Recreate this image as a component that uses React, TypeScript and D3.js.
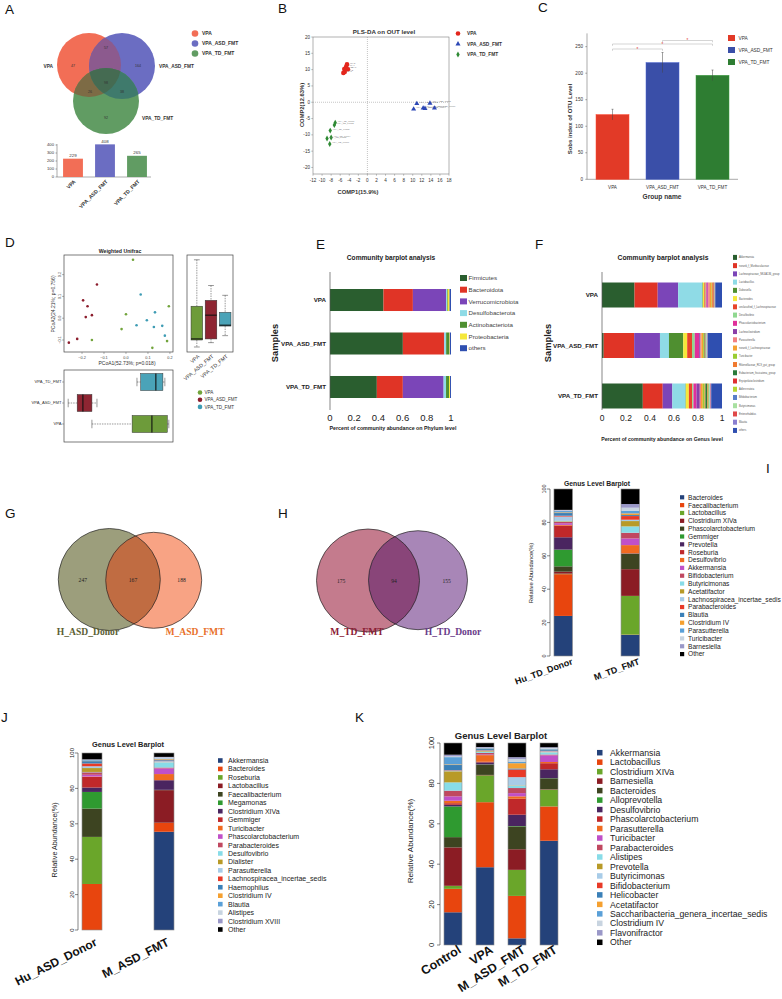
import React from 'react';
import * as d3 from 'd3';

const SANS = "'Liberation Sans', Arial, Helvetica, sans-serif";
const SERIF = "'Liberation Serif', 'Times New Roman', Times, serif";

// ---------------- Panel A ----------------
const aGroups = ['VPA', 'VPA_ASD_FMT', 'VPA_TD_FMT'];
const aColors = ['#f26e56', '#6b6dc2', '#619c63'];
const aTotals = [229, 408, 265];
const aRegionCounts = [47, 57, 164, 98, 26, 38, 92];
const aTicks = [0, 100, 200, 300, 400];

// ---------------- Panel B ----------------
const bGroups = ['VPA', 'VPA_ASD_FMT', 'VPA_TD_FMT'];
const bColors = ['#e3261c', '#2c47b5', '#2f8a34'];
const bVPA = [[-5.3, 9.0], [-5.0, 9.3], [-5.1, 10.2], [-4.7, 10.9], [-4.5, 11.6], [-4.3, 10.1]];
const bASD = [[10.2, -2.1], [10.9, -0.4], [12.3, -1.8], [12.7, -1.9], [13.8, -0.3], [14.8, -1.8]];
const bTD = [[-7.1, -6.3], [-7.3, -7.0], [-8.2, -8.7], [-8.0, -10.8], [-8.9, -11.1], [-8.3, -12.8]];
const bXTicks = [-12, -10, -8, -6, -4, -2, 0, 2, 4, 6, 8, 10, 12, 14, 16, 18];
const bYTicks = [-20, -15, -10, -5, 0, 5, 10, 15, 20];

// ---------------- Panel C ----------------
const cGroups = ['VPA', 'VPA_ASD_FMT', 'VPA_TD_FMT'];
const cColors = ['#e23a27', '#3a4fa8', '#2e7d32'];
const cMeans = [122, 220, 196];
const cErrors = [10, 19, 10];
const cTicks = [0, 50, 100, 150, 200, 250];

// ---------------- Panel D ----------------
const dGroups = ['VPA', 'VPA_ASD_FMT', 'VPA_TD_FMT'];
const dColors = ['#72a43c', '#8c1d2d', '#3e9cb4'];
const dBoxColors = ['#6d9b3a', '#8e2532', '#4aa3b8'];
const dVPA = [[0.032, 0.268], [0.0, 0.018], [-0.02, -0.05], [0.195, 0.055], [0.187, -0.105], [0.12, -0.136], [-0.155, -0.1]];
const dASD = [[-0.132, 0.155], [-0.195, 0.082], [-0.175, 0.055], [-0.155, 0.014], [-0.183, 0.005], [-0.222, -0.095], [-0.26, -0.112]];
const dTD = [[0.067, 0.109], [0.132, 0.027], [0.095, -0.009], [0.048, -0.032], [0.127, -0.04], [0.165, -0.035], [0.177, -0.08]];
// [min, q1, median, q3, max]
const dPC2Stats = [[-0.132, -0.1, -0.095, 0.055, 0.268], [-0.112, -0.095, 0.014, 0.082, 0.15], [-0.08, -0.036, -0.032, 0.027, 0.105]];
const dPC1Stats = [[-0.155, 0.028, 0.118, 0.188, 0.195], [-0.263, -0.222, -0.196, -0.155, -0.132], [0.05, 0.067, 0.136, 0.168, 0.177]];
const dXTicks = [-0.2, -0.1, 0.0, 0.1, 0.2];
const dYTicks = [-0.1, 0.0, 0.1, 0.2];

// ---------------- Panel E ----------------
const ePhyla = ['Firmicutes', 'Bacteroidota', 'Verrucomicrobiota', 'Desulfobacterota', 'Actinobacteriota', 'Proteobacteria', 'others'];
const eColors = ['#2a5e2f', '#e03426', '#7b45b8', '#8fdbe6', '#4f8f30', '#f5e83a', '#2f4fb0'];
const eSamples = ['VPA', 'VPA_ASD_FMT', 'VPA_TD_FMT'];
const eVPA = [0.442, 0.243, 0.274, 0.008, 0.006, 0.015, 0.012];
const eASD = [0.602, 0.340, 0.003, 0.015, 0.025, 0.005, 0.010];
const eTD = [0.387, 0.215, 0.337, 0.020, 0.025, 0.008, 0.008];
const eTicks = [0, 0.2, 0.4, 0.6, 0.8, 1];

// ---------------- Panel F ----------------
const fGenera = ['Akkermansia', 'norank_f_Muribaculaceae', 'Lachnospiraceae_NK4A136_group', 'Lactobacillus', 'Dubosiella', 'Bacteroides', 'unclassified_f_Lachnospiraceae', 'Desulfovibrio', 'Phascolarctobacterium', 'Lachnoclostridium', 'Parasutterella', 'norank_f_Lachnospiraceae', 'Turicibacter', 'Rikenellaceae_RC9_gut_group', 'Eubacterium_fissicatena_group', 'Erysipelatoclostridium', 'Adlercreutzia', 'Bifidobacterium', 'Butyricimonas', 'Enterorhabdus', 'Blautia', 'others'];
const fColors = ['#2a5e2f', '#e03426', '#7b45b8', '#8fdbe6', '#4f8f30', '#f5e83a', '#e8452a', '#90d890', '#e0309a', '#8a3fa8', '#f28080', '#f5a030', '#9acd32', '#f07a30', '#2a7a3a', '#e03030', '#b5d630', '#5a7fc8', '#a8e0a0', '#e04848', '#8a7fd0', '#2f4fb0'];
const fVPA = [0.271, 0.193, 0.171, 0.202, 0.004, 0.012, 0.010, 0.006, 0.012, 0.004, 0.014, 0.015, 0.004, 0.010, 0.002, 0.004, 0.002, 0.002, 0.002, 0.002, 0.002, 0.056];
const fASD = [0.014, 0.254, 0.215, 0.075, 0.119, 0.033, 0.040, 0.023, 0.037, 0.010, 0.008, 0.015, 0.007, 0.005, 0.004, 0.003, 0.003, 0.005, 0.005, 0.003, 0.003, 0.119];
const fTD = [0.340, 0.166, 0.080, 0.110, 0.003, 0.025, 0.027, 0.011, 0.025, 0.028, 0.010, 0.015, 0.015, 0.007, 0.013, 0.005, 0.010, 0.005, 0.005, 0.005, 0.005, 0.090];
const fTicks = [0, 0.2, 0.4, 0.6, 0.8, 1];

// ---------------- Panels G / H ----------------
const gSets = ['H_ASD_Donor', 'M_ASD_FMT'];
const gCounts = [247, 167, 188];
const hSets = ['M_TD_FMT', 'H_TD_Donor'];
const hCounts = [175, 94, 155];

// ---------------- Genus barplots I / J / K ----------------
const genusPalette = ['#24427a', '#e8450e', '#6aa62a', '#8b1c24', '#3d4421', '#2f9a30', '#4a2560', '#c0282a', '#f06a20', '#c050c8', '#c04860', '#88dce8', '#b89a28', '#a8cce8', '#e83a28', '#3a80b8', '#f5a030', '#5aa0d8', '#c8d4e0', '#9a98c8', '#000000'];
const pctTicks = [0, 20, 40, 60, 80, 100];

const iGenera = ['Bacteroides', 'Faecalibacterium', 'Lactobacillus', 'Clostridium XIVa', 'Phascolarctobacterium', 'Gemmiger', 'Prevotella', 'Roseburia', 'Desulfovibrio', 'Akkermansia', 'Bifidobacterium', 'Butyricimonas', 'Acetatifactor', 'Lachnospiracea_incertae_sedis', 'Parabacteroides', 'Blautia', 'Clostridium IV', 'Parasutterella', 'Turicibacter', 'Barnesiella', 'Other'];
const iSamples = ['Hu_TD_Donor', 'M_TD_FMT'];
const iHuTD = [24, 25, 0.3, 1.2, 3.2, 10, 7.4, 7, 0.4, 1, 0.8, 0.3, 0.3, 2.6, 0.5, 1.6, 0.4, 0.8, 0.4, 0.3, 12.5];
const iMTD = [12.6, 0.2, 23.2, 16, 9.2, 0.1, 0.1, 0.2, 4.8, 4, 3.4, 3.8, 3.2, 0.8, 2.2, 0.6, 1, 1.6, 1.8, 2.2, 9];

const jGenera = ['Akkermansia', 'Bacteroides', 'Roseburia', 'Lactobacillus', 'Faecalibacterium', 'Megamonas', 'Clostridium XIVa', 'Gemmiger', 'Turicibacter', 'Phascolarctobacterium', 'Parabacteroides', 'Desulfovibrio', 'Dialister', 'Parasutterella', 'Lachnospiracea_incertae_sedis', 'Haemophilus', 'Clostridium IV', 'Blautia', 'Alistipes', 'Clostridium XVIII', 'Other'];
const jSamples = ['Hu_ASD_Donor', 'M_ASD_FMT'];
const jHuASD = [0, 26, 26.6, 0, 16, 9.4, 2.5, 6, 0.2, 1, 1.4, 0.2, 2.2, 1, 1.6, 1.3, 0.2, 0.4, 0.2, 0.2, 3.6];
const jMASD = [55.5, 5, 0.1, 18.4, 0.2, 0, 5.4, 0.1, 3.4, 3.2, 0.5, 2.8, 0.1, 0.7, 0.3, 0.4, 0.4, 0.4, 0.6, 0.3, 2.2];

const kGenera = ['Akkermansia', 'Lactobacillus', 'Clostridium XIVa', 'Barnesiella', 'Bacteroides', 'Alloprevotella', 'Desulfovibrio', 'Phascolarctobacterium', 'Parasutterella', 'Turicibacter', 'Parabacteroides', 'Alistipes', 'Prevotella', 'Butyricimonas', 'Bifidobacterium', 'Helicobacter', 'Acetatifactor', 'Saccharibacteria_genera_incertae_sedis', 'Clostridium IV', 'Flavonifractor', 'Other'];
const kSamples = ['Control', 'VPA', 'M_ASD_FMT', 'M_TD_FMT'];
const kControl = [16.2, 11.6, 1.5, 19, 5.1, 15.2, 0.8, 0.8, 1.2, 2.2, 2.8, 4.1, 5.5, 0.3, 0.2, 2.6, 0.3, 3.6, 0.4, 0.8, 5.8];
const kVPA = [38.5, 32.2, 13.3, 0.2, 5.1, 0.1, 1, 0.3, 3.3, 0.3, 0.8, 0.6, 0.3, 0.2, 0.2, 0.6, 0.2, 0.3, 0.2, 0.3, 2];
const kMASD = [3.3, 21, 12.9, 10.2, 11.3, 0.2, 5.6, 7.9, 1.2, 1.6, 2.5, 1.1, 0.2, 4.1, 3.8, 0.5, 2.6, 0.6, 1.5, 0.9, 7];
const kMTD = [51.6, 17, 8.3, 0.2, 5.4, 0.1, 4.4, 3, 0.6, 3.3, 0.4, 1, 0.1, 0.5, 0.2, 0.4, 0.2, 0.4, 0.5, 0.3, 2.1];

const panelLetters: [string, number, number][] = [
  ['A', 5, 14], ['B', 278, 13], ['C', 538, 12], ['D', 5, 247], ['E', 316, 249], ['F', 535, 249],
  ['G', 5, 518], ['H', 278, 518], ['I', 766, 473], ['J', 1, 722], ['K', 355, 722],
];

// ---------------- helpers ----------------
function stackData(categories: string[], samples: string[], values: number[][]) {
  const rows = samples.map((s, i) => {
    const o: any = { sample: s };
    categories.forEach((c, j) => (o[c] = values[i][j]));
    return o;
  });
  return d3.stack().keys(categories)(rows);
}

function HStack({ categories, colors, samples, values, x, y }: any) {
  const series = stackData(categories, samples, values);
  return (
    <g>
      {series.map((s: any, j: number) =>
        s.map((d: any, i: number) => (
          <rect key={j + '-' + i} x={x(d[0])} y={y(samples[i])} width={Math.max(0, x(d[1]) - x(d[0]))} height={y.bandwidth()} fill={colors[j]} />
        ))
      )}
    </g>
  );
}

function Columns({ genera, colors, samples, values, x, y }: any) {
  const series = stackData(genera, samples, values);
  return (
    <g>
      {series.map((s: any, j: number) =>
        s.map((d: any, i: number) => (
          <rect key={j + '-' + i} x={x(samples[i])} y={y(d[1])} width={x.bandwidth()} height={Math.max(0, y(d[0]) - y(d[1]))} fill={colors[j]} />
        ))
      )}
      {samples.map((s: string) => (
        <rect key={s} x={x(s)} y={y(100)} width={x.bandwidth()} height={y(0) - y(100)} fill="none" stroke="#8c8c8c" strokeWidth={0.6} />
      ))}
    </g>
  );
}

function RAxis({ y, axisX, labelX, fontSize }: any) {
  return (
    <g>
      <line x1={axisX} x2={axisX} y1={y(0)} y2={y(100)} stroke="#333" strokeWidth={0.6} />
      {pctTicks.map((t) => (
        <g key={t}>
          <line x1={axisX} x2={axisX - 3} y1={y(t)} y2={y(t)} stroke="#333" strokeWidth={0.6} />
          <text transform={`translate(${labelX},${y(t)}) rotate(-90)`} textAnchor="middle" fontSize={fontSize} fill="#222">{t}</text>
        </g>
      ))}
    </g>
  );
}

function GenusLegend({ names, colors, x, textX, y0, step, size, fontSize }: any) {
  return (
    <g>
      {names.map((n: string, i: number) => (
        <g key={n}>
          <rect x={x} y={y0 + i * step - size / 2} width={size} height={size} fill={colors[i]} />
          <text x={textX} y={y0 + i * step + fontSize * 0.36} fontSize={fontSize} fill="#222">{n}</text>
        </g>
      ))}
    </g>
  );
}

// ---------------- Panels ----------------
function PanelA() {
  const C = [
    { cx: 89, cy: 65, r: 32 },
    { cx: 122, cy: 66, r: 33 },
    { cx: 106, cy: 101, r: 33 },
  ];
  const regionPos = [[73, 66], [106, 48], [138, 66], [106, 83], [90, 92], [122, 92], [106, 118]];
  const x = d3.scaleBand().domain(aGroups).range([57, 153]).paddingInner(0.38).paddingOuter(0.19);
  const y = d3.scaleLinear().domain([0, 400]).range([177, 145]);
  const circ = (c: any, fill: string) => <circle cx={c.cx} cy={c.cy} r={c.r} fill={fill} />;
  return (
    <g>
      <defs>
        {C.map((c, i) => (
          <clipPath id={`aClip${i}`} key={i}>
            <circle cx={c.cx} cy={c.cy} r={c.r} />
          </clipPath>
        ))}
      </defs>
      {C.map((c, i) => <circle key={i} cx={c.cx} cy={c.cy} r={c.r} fill={aColors[i]} />)}
      <g clipPath="url(#aClip0)">{circ(C[1], '#8c5a8e')}</g>
      <g clipPath="url(#aClip0)">{circ(C[2], '#7d6b45')}</g>
      <g clipPath="url(#aClip1)">{circ(C[2], '#3f7a6c')}</g>
      <g clipPath="url(#aClip0)"><g clipPath="url(#aClip1)">{circ(C[2], '#456b52')}</g></g>
      {aRegionCounts.map((v, i) => (
        <text key={i} x={regionPos[i][0]} y={regionPos[i][1] + 1.2} textAnchor="middle" fontSize={3.6} fill="#333">{v}</text>
      ))}
      <text x={53} y={67.5} textAnchor="end" fontSize={4.8} fontWeight="bold" fill="#333">{aGroups[0]}</text>
      <text x={159} y={67.5} fontSize={4.8} fontWeight="bold" fill="#333">{aGroups[1]}</text>
      <text x={142} y={119.5} fontSize={4.8} fontWeight="bold" fill="#333">{aGroups[2]}</text>
      {aGroups.map((g, i) => (
        <g key={g}>
          <circle cx={195} cy={33.5 + i * 10} r={3.3} fill={aColors[i]} />
          <text x={202} y={35.2 + i * 10} fontSize={5} fontWeight="bold" fill="#333">{g}</text>
        </g>
      ))}
      {/* bar chart */}
      <line x1={57} x2={57} y1={144} y2={177} stroke="#555" strokeWidth={0.5} />
      <line x1={57} x2={151} y1={177} y2={177} stroke="#555" strokeWidth={0.5} />
      {aTicks.map((t) => (
        <g key={t}>
          <line x1={55.5} x2={57} y1={y(t)} y2={y(t)} stroke="#555" strokeWidth={0.5} />
          <text x={54} y={y(t) + 1.4} textAnchor="end" fontSize={4.2} fill="#333">{t}</text>
        </g>
      ))}
      {aGroups.map((g, i) => (
        <g key={g}>
          <rect x={x(g)} y={y(aTotals[i])} width={x.bandwidth()} height={y(0) - y(aTotals[i])} fill={aColors[i]} />
          <text x={(x(g) as number) + x.bandwidth() / 2} y={y(aTotals[i]) - 1.5} textAnchor="middle" fontSize={4.4} fill="#333">{aTotals[i]}</text>
          <text transform={`translate(${(x(g) as number) + x.bandwidth() / 2 + 3},${182}) rotate(-45)`} textAnchor="end" fontSize={5.2} fontWeight="bold" fill="#333">{g}</text>
        </g>
      ))}
    </g>
  );
}

function PanelB() {
  const x = d3.scaleLinear().domain([-12, 18]).range([313, 449]);
  const y = d3.scaleLinear().domain([-22, 20]).range([174, 37]);
  const tri = d3.symbol().type(d3.symbolTriangle).size(11)() as string;
  const dia = d3.symbol().type(d3.symbolDiamond).size(10)() as string;
  const groups = [bVPA, bASD, bTD];
  const mark = (g: number, px: number, py: number, key: string) =>
    g === 0 ? (
      <circle key={key} cx={px} cy={py} r={2.3} fill={bColors[0]} />
    ) : (
      <path key={key} d={g === 1 ? tri : dia} transform={`translate(${px},${py})`} fill={bColors[g]} />
    );
  return (
    <g>
      <text x={384} y={34} textAnchor="middle" fontSize={6.2} fontWeight="bold" fill="#333">PLS-DA  on OUT level</text>
      <rect x={313} y={37} width={136} height={137} fill="none" stroke="#666" strokeWidth={0.5} />
      <line x1={x(0)} x2={x(0)} y1={37} y2={174} stroke="#888" strokeWidth={0.5} strokeDasharray="1,1" />
      <line x1={313} x2={449} y1={y(0)} y2={y(0)} stroke="#888" strokeWidth={0.5} strokeDasharray="1,1" />
      {bXTicks.map((t) => (
        <g key={t}>
          <line x1={x(t)} x2={x(t)} y1={174} y2={175.8} stroke="#666" strokeWidth={0.4} />
          <text x={x(t)} y={182} textAnchor="middle" fontSize={4.6} fill="#333">{t}</text>
        </g>
      ))}
      {bYTicks.map((t) => (
        <g key={t}>
          <line x1={311.2} x2={313} y1={y(t)} y2={y(t)} stroke="#666" strokeWidth={0.4} />
          <text x={310} y={y(t) + 1.5} textAnchor="end" fontSize={4.6} fill="#333">{t}</text>
        </g>
      ))}
      <text x={358} y={194} textAnchor="middle" fontSize={5.8} fontWeight="bold" fill="#333">COMP1(15.9%)</text>
      <text transform="translate(304,105) rotate(-90)" textAnchor="middle" fontSize={5.8} fontWeight="bold" fill="#333">COMP2(12.63%)</text>
      {groups.map((pts, g) =>
        pts.map((p, i) => (
          <g key={g + '-' + i}>
            {mark(g, x(p[0]), y(p[1]), 'm')}
            <text x={x(p[0]) + 2.5} y={y(p[1]) - 0.8} fontSize={2.4} fill="#777">{bGroups[g] + (i + 1)}</text>
          </g>
        ))
      )}
      {bGroups.map((g, i) => (
        <g key={g}>
          {mark(i, 458, 33.5 + i * 10.5, 'l')}
          <text x={467} y={35.3 + i * 10.5} fontSize={4.8} fontWeight="bold" fill="#333">{g}</text>
        </g>
      ))}
    </g>
  );
}

function PanelC() {
  const x = d3.scaleBand().domain(cGroups).range([587, 738]).paddingInner(0.34).paddingOuter(0.18);
  const y = d3.scaleLinear().domain([0, 275]).range([179.3, 33.4]);
  const cx = (g: string) => (x(g) as number) + x.bandwidth() / 2;
  const brackets = [
    { a: 0, b: 1, yy: 49 },
    { a: 0, b: 2, yy: 44 },
    { a: 1, b: 2, yy: 40.5 },
  ];
  return (
    <g>
      <line x1={587} x2={587} y1={33.4} y2={179.3} stroke="#555" strokeWidth={0.5} />
      <line x1={587} x2={738} y1={179.3} y2={179.3} stroke="#555" strokeWidth={0.5} />
      {cTicks.map((t) => (
        <g key={t}>
          <line x1={585.3} x2={587} y1={y(t)} y2={y(t)} stroke="#555" strokeWidth={0.5} />
          <text x={583} y={y(t) + 1.6} textAnchor="end" fontSize={4.6} fill="#333">{t}</text>
        </g>
      ))}
      {cGroups.map((g, i) => (
        <g key={g}>
          <rect x={x(g)} y={y(cMeans[i])} width={x.bandwidth()} height={y(0) - y(cMeans[i])} fill={cColors[i]} stroke={d3.color(cColors[i])!.brighter(0.6).toString()} strokeWidth={0.5} />
          <line x1={cx(g)} x2={cx(g)} y1={y(cMeans[i] - cErrors[i])} y2={y(cMeans[i] + cErrors[i])} stroke="#444" strokeWidth={0.5} />
          <line x1={cx(g) - 1} x2={cx(g) + 1} y1={y(cMeans[i] + cErrors[i])} y2={y(cMeans[i] + cErrors[i])} stroke="#444" strokeWidth={0.5} />
          <text x={cx(g)} y={188.5} textAnchor="middle" fontSize={4.6} fill="#333">{g}</text>
        </g>
      ))}
      {brackets.map((b, i) => {
        const x1 = cx(cGroups[b.a]);
        const x2 = cx(cGroups[b.b]);
        return (
          <g key={i}>
            <path d={`M${x1},${b.yy + 1.8}V${b.yy}H${x2}V${b.yy + 1.8}`} fill="none" stroke="#aaa" strokeWidth={0.5} />
            <text x={(x1 + x2) / 2} y={b.yy + 1.8} textAnchor="middle" fontSize={4.5} fill="#e23a27">*</text>
          </g>
        );
      })}
      <text x={662} y={199} textAnchor="middle" fontSize={6.6} fontWeight="bold" fill="#333">Group  name</text>
      <text transform="translate(572,119) rotate(-90)" textAnchor="middle" fontSize={6} fontWeight="bold" fill="#333">Sobs  index of OTU Level</text>
      {cGroups.map((g, i) => (
        <g key={g}>
          <rect x={728} y={35 + i * 12} width={7} height={6} fill={cColors[i]} />
          <text x={738.5} y={39.8 + i * 12} fontSize={4.8} fill="#333">{g}</text>
        </g>
      ))}
    </g>
  );
}

function PanelD() {
  const x = d3.scaleLinear().domain([-0.282, 0.214]).range([64, 173]);
  const y = d3.scaleLinear().domain([-0.155, 0.29]).range([352, 255]);
  const pts = [dVPA, dASD, dTD];
  const bx = d3.scaleBand().domain(dGroups).range([187.5, 234.5]).paddingInner(0.18).paddingOuter(0.25);
  const byOrder = ['VPA_TD_FMT', 'VPA_ASD_FMT', 'VPA'];
  const by = d3.scaleBand().domain(byOrder).range([370, 436]).paddingInner(0.19).paddingOuter(0.167);
  const fmt = d3.format('.1f');
  return (
    <g>
      <text x={120} y={253} textAnchor="middle" fontSize={5.2} fontWeight="bold" fill="#222">Weighted Unifrac</text>
      <rect x={64} y={255} width={109} height={97} fill="none" stroke="#444" strokeWidth={0.7} />
      {dXTicks.map((t) => (
        <g key={t}>
          <line x1={x(t)} x2={x(t)} y1={352} y2={354} stroke="#444" strokeWidth={0.4} />
          <text x={x(t)} y={358.5} textAnchor="middle" fontSize={3.8} fill="#444">{fmt(t)}</text>
        </g>
      ))}
      {dYTicks.map((t) => (
        <g key={t}>
          <line x1={62} x2={64} y1={y(t)} y2={y(t)} stroke="#444" strokeWidth={0.4} />
          <text transform={`translate(60.5,${y(t)}) rotate(-90)`} textAnchor="middle" fontSize={3.8} fill="#444">{fmt(t)}</text>
        </g>
      ))}
      <text x={127} y={365} textAnchor="middle" fontSize={5} fill="#333">PCoA1(52.73%; p=0.018)</text>
      <text transform="translate(55,304) rotate(-90)" textAnchor="middle" fontSize={5} fill="#333">PCoA2(24.21%; p=0.756)</text>
      {pts.map((arr, g) => arr.map((p, i) => <circle key={g + '-' + i} cx={x(p[0])} cy={y(p[1])} r={1.3} fill={dColors[g]} />))}
      {/* right boxplot (PCoA2) */}
      <rect x={187} y={255} width={46} height={97} fill="none" stroke="#444" strokeWidth={0.7} />
      {dGroups.map((g, i) => {
        const s = dPC2Stats[i];
        const c = (bx(g) as number) + bx.bandwidth() / 2;
        const w = bx.bandwidth();
        return (
          <g key={g}>
            <line x1={c} x2={c} y1={y(s[4])} y2={y(s[3])} stroke="#333" strokeWidth={0.5} strokeDasharray="1.5,1" />
            <line x1={c} x2={c} y1={y(s[1])} y2={y(s[0])} stroke="#333" strokeWidth={0.5} strokeDasharray="1.5,1" />
            <line x1={c - w / 4} x2={c + w / 4} y1={y(s[4])} y2={y(s[4])} stroke="#333" strokeWidth={0.5} />
            <line x1={c - w / 4} x2={c + w / 4} y1={y(s[0])} y2={y(s[0])} stroke="#333" strokeWidth={0.5} />
            <rect x={bx(g)} y={y(s[3])} width={w} height={y(s[1]) - y(s[3])} fill={dBoxColors[i]} stroke="#333" strokeWidth={0.5} />
            <line x1={bx(g) as number} x2={(bx(g) as number) + w} y1={y(s[2])} y2={y(s[2])} stroke="#111" strokeWidth={1.1} />
            <text transform={`translate(${c + 3},${357}) rotate(-40)`} textAnchor="end" fontSize={5.2} fill="#333">{g}</text>
          </g>
        );
      })}
      {/* bottom boxplot (PCoA1) */}
      <rect x={64} y={370} width={109} height={72} fill="none" stroke="#444" strokeWidth={0.7} />
      {byOrder.map((g) => {
        const i = dGroups.indexOf(g);
        const s = dPC1Stats[i];
        const c = (by(g) as number) + by.bandwidth() / 2;
        const h = by.bandwidth();
        return (
          <g key={g}>
            <line x1={x(s[0])} x2={x(s[1])} y1={c} y2={c} stroke="#333" strokeWidth={0.5} strokeDasharray="1.5,1" />
            <line x1={x(s[3])} x2={x(s[4])} y1={c} y2={c} stroke="#333" strokeWidth={0.5} strokeDasharray="1.5,1" />
            <line x1={x(s[0])} x2={x(s[0])} y1={c - h / 4} y2={c + h / 4} stroke="#333" strokeWidth={0.5} />
            <line x1={x(s[4])} x2={x(s[4])} y1={c - h / 4} y2={c + h / 4} stroke="#333" strokeWidth={0.5} />
            <rect x={x(s[1])} y={by(g)} width={x(s[3]) - x(s[1])} height={h} fill={dBoxColors[i]} stroke="#333" strokeWidth={0.5} />
            <line x1={x(s[2])} x2={x(s[2])} y1={by(g) as number} y2={(by(g) as number) + h} stroke="#111" strokeWidth={1.1} />
            <line x1={62} x2={64} y1={c} y2={c} stroke="#444" strokeWidth={0.4} />
            <text x={61.5} y={c + 1.4} textAnchor="end" fontSize={4.2} fill="#333">{g}</text>
          </g>
        );
      })}
      {dGroups.map((g, i) => (
        <g key={g}>
          <circle cx={200} cy={392.5 + i * 7.2} r={2.3} fill={dColors[i]} />
          <text x={204.5} y={394.2 + i * 7.2} fontSize={4.6} fill="#333">{g}</text>
        </g>
      ))}
    </g>
  );
}

function PanelE() {
  const x = d3.scaleLinear().domain([0, 1]).range([330, 451]);
  const y = d3.scaleBand().domain(eSamples).range([278, 409]).paddingInner(0.494).paddingOuter(0.253);
  return (
    <g>
      <text x={391} y={260} textAnchor="middle" fontSize={6.6} fontWeight="bold" fill="#222">Community barplot analysis</text>
      <HStack categories={ePhyla} colors={eColors} samples={eSamples} values={[eVPA, eASD, eTD]} x={x} y={y} />
      <line x1={330} x2={330} y1={272} y2={410} stroke="#555" strokeWidth={0.7} />
      {eTicks.map((t) => (
        <text key={t} x={x(t)} y={420.5} textAnchor="middle" fontSize={9.5} fill="#222">{t}</text>
      ))}
      {eSamples.map((s) => (
        <text key={s} x={326} y={(y(s) as number) + y.bandwidth() / 2 + 2.2} textAnchor="end" fontSize={6.2} fontWeight="bold" fill="#222">{s}</text>
      ))}
      <text transform="translate(278,343) rotate(-90)" textAnchor="middle" fontSize={9.3} fontWeight="bold" fill="#222">Samples</text>
      <text x={393} y={429.5} textAnchor="middle" fontSize={5.3} fontWeight="bold" fill="#222">Percent of community abundance on Phylum level</text>
      {ePhyla.map((p, i) => (
        <g key={p}>
          <rect x={460} y={278 + i * 11.7 - 3} width={7} height={6} fill={eColors[i]} />
          <text x={468.5} y={278 + i * 11.7 + 2.2} fontSize={6.2} fill="#444">{p}</text>
        </g>
      ))}
    </g>
  );
}

function PanelF() {
  const x = d3.scaleLinear().domain([0, 1]).range([602, 722]);
  const y = d3.scaleBand().domain(eSamples).range([272, 419]).paddingInner(0.505).paddingOuter(0.208);
  return (
    <g>
      <text x={663} y={260} textAnchor="middle" fontSize={6.8} fontWeight="bold" fill="#222">Community barplot analysis</text>
      <HStack categories={fGenera} colors={fColors} samples={eSamples} values={[fVPA, fASD, fTD]} x={x} y={y} />
      <line x1={602} x2={602} y1={272} y2={410} stroke="#555" strokeWidth={0.7} />
      {fTicks.map((t) => (
        <text key={t} x={x(t)} y={421} textAnchor="middle" fontSize={8.5} fill="#222">{t}</text>
      ))}
      {eSamples.map((s) => (
        <text key={s} x={598} y={(y(s) as number) + y.bandwidth() / 2 + 2.2} textAnchor="end" fontSize={6.2} fontWeight="bold" fill="#222">{s}</text>
      ))}
      <text transform="translate(551,343) rotate(-90)" textAnchor="middle" fontSize={9.3} fontWeight="bold" fill="#222">Samples</text>
      <text x={662} y={441} textAnchor="middle" fontSize={5.2} fontWeight="bold" fill="#222">Percent of community abundance on Genus level</text>
      {fGenera.map((g, i) => (
        <g key={g}>
          <rect x={733} y={257.4 + i * 8.24 - 2.5} width={4} height={5} fill={fColors[i]} />
          <text x={739} y={257.4 + i * 8.24 + 1} fontSize={2.6} fill="#555">{g}</text>
        </g>
      ))}
    </g>
  );
}

function Venn2({ id, c1, c2, col1, col2, colI, counts, labels, labelCols, labelPos }: any) {
  return (
    <g>
      <defs>
        <clipPath id={id}>
          <circle cx={c1.cx} cy={c1.cy} r={c1.r} />
        </clipPath>
      </defs>
      <circle cx={c1.cx} cy={c1.cy} r={c1.r} fill={col1} />
      <circle cx={c2.cx} cy={c2.cy} r={c2.r} fill={col2} />
      <g clipPath={`url(#${id})`}>
        <circle cx={c2.cx} cy={c2.cy} r={c2.r} fill={colI} />
      </g>
      <circle cx={c1.cx} cy={c1.cy} r={c1.r} fill="none" stroke="#222" strokeWidth={0.7} />
      <circle cx={c2.cx} cy={c2.cy} r={c2.r} fill="none" stroke="#222" strokeWidth={0.7} />
      {counts.map((v: number, i: number) => {
        const xs = [c1.cx - c1.r * 0.52, (c1.cx + c1.r + c2.cx - c2.r) / 2, c2.cx + c2.r * 0.58];
        return (
          <text key={i} x={xs[i]} y={c1.cy + 2} textAnchor="middle" fontSize={5.6} fontFamily={SERIF} fill="#222">{v}</text>
        );
      })}
      {labels.map((l: string, i: number) => (
        <text key={l} x={labelPos[i][0]} y={labelPos[i][1]} textAnchor="middle" fontSize={9.6} fontWeight="bold" fontFamily={SERIF} fill={labelCols[i]}>{l}</text>
      ))}
    </g>
  );
}

function PanelGH() {
  return (
    <g>
      <Venn2 id="gClip" c1={{ cx: 109.3, cy: 579.5, r: 51 }} c2={{ cx: 153.7, cy: 580.3, r: 48 }} col1="#9c9e7c" col2="#f8a384" colI="#c06c42" counts={gCounts} labels={gSets} labelCols={['#5b5e33', '#e8702a']} labelPos={[[88, 635], [195, 635]]} />
      <Venn2 id="hClip" c1={{ cx: 368, cy: 580.5, r: 51.5 }} c2={{ cx: 418, cy: 580.2, r: 49.5 }} col1="#c47b8d" col2="#a886b7" colI="#894579" counts={hCounts} labels={hSets} labelCols={['#8b2035', '#6a3d8a']} labelPos={[[357, 635], [453, 635]]} />
    </g>
  );
}

function PanelI() {
  const x = d3.scaleBand().domain(iSamples).range([530.5, 663]).paddingInner(0.724).paddingOuter(0.35);
  const y = d3.scaleLinear().domain([0, 100]).range([656, 489]);
  return (
    <g>
      <text x={597} y={485.5} textAnchor="middle" fontSize={6.8} fontWeight="bold" fill="#222">Genus Level Barplot</text>
      <Columns genera={iGenera} colors={genusPalette} samples={iSamples} values={[iHuTD, iMTD]} x={x} y={y} />
      <RAxis y={y} axisX={550} labelX={545.5} fontSize={5.5} />
      <text transform="translate(532.5,573) rotate(-90)" textAnchor="middle" fontSize={5.8} fill="#222">Relative Abundance(%)</text>
      {iSamples.map((s) => (
        <text key={s} transform={`translate(${(x(s) as number) + x.bandwidth() / 2 + 10},${664}) rotate(-20)`} textAnchor="end" fontSize={9} fontWeight="bold" fill="#111">{s}</text>
      ))}
      <GenusLegend names={iGenera} colors={genusPalette} x={680} textX={688} y0={497.3} step={7.84} size={4.2} fontSize={6.6} />
    </g>
  );
}

function PanelJ() {
  const x = d3.scaleBand().domain(jSamples).range([56.8, 199.2]).paddingInner(0.722).paddingOuter(0.35);
  const y = d3.scaleLinear().domain([0, 100]).range([930, 753]);
  return (
    <g>
      <text x={128} y={746.5} textAnchor="middle" fontSize={7.4} fontWeight="bold" fill="#222">Genus Level Barplot</text>
      <Columns genera={jGenera} colors={genusPalette} samples={jSamples} values={[jHuASD, jMASD]} x={x} y={y} />
      <RAxis y={y} axisX={78} labelX={73.5} fontSize={6} />
      <text transform="translate(57,840) rotate(-90)" textAnchor="middle" fontSize={7.2} fill="#222">Relative Abundance(%)</text>
      {jSamples.map((s) => (
        <text key={s} transform={`translate(${(x(s) as number) + x.bandwidth() / 2 + 6},${945}) rotate(-27)`} textAnchor="end" fontSize={12} fontWeight="bold" fill="#111">{s}</text>
      ))}
      <GenusLegend names={jGenera} colors={genusPalette} x={218} textX={228} y0={760.5} step={8.45} size={4.6} fontSize={7} />
    </g>
  );
}

function PanelK() {
  const x = d3.scaleBand().domain(kSamples).range([434.4, 567.6]).paddingInner(0.4375).paddingOuter(0.3);
  const y = d3.scaleLinear().domain([0, 100]).range([945, 743]);
  return (
    <g>
      <text x={501} y={738.5} textAnchor="middle" fontSize={9.5} fontWeight="bold" fill="#222">Genus Level Barplot</text>
      <Columns genera={kGenera} colors={genusPalette} samples={kSamples} values={[kControl, kVPA, kMASD, kMTD]} x={x} y={y} />
      <RAxis y={y} axisX={440} labelX={434} fontSize={7.6} />
      <text transform="translate(413,841) rotate(-90)" textAnchor="middle" fontSize={8.1} fill="#222">Relative Abundance(%)</text>
      {kSamples.map((s) => (
        <text key={s} transform={`translate(${(x(s) as number) + x.bandwidth() / 2 + 9},${952}) rotate(-32)`} textAnchor="end" fontSize={12.5} fontWeight="bold" fill="#111">{s}</text>
      ))}
      <GenusLegend names={kGenera} colors={genusPalette} x={597} textX={610} y0={752.7} step={9.48} size={5.5} fontSize={8.7} />
    </g>
  );
}

export default function App() {
  return (
    <svg xmlns="http://www.w3.org/2000/svg" width={782} height={999} viewBox="0 0 782 999" style={{ position: 'absolute', left: 0, top: 0, display: 'block' }} fontFamily={SANS}>
      <rect x={0} y={0} width={782} height={999} fill="#ffffff" />
      {panelLetters.map(([l, x, y]) => (
        <text key={l} x={x} y={y} fontSize={13.5} fill="#111">{l}</text>
      ))}
      <PanelA />
      <PanelB />
      <PanelC />
      <PanelD />
      <PanelE />
      <PanelF />
      <PanelGH />
      <PanelI />
      <PanelJ />
      <PanelK />
    </svg>
  );
}
